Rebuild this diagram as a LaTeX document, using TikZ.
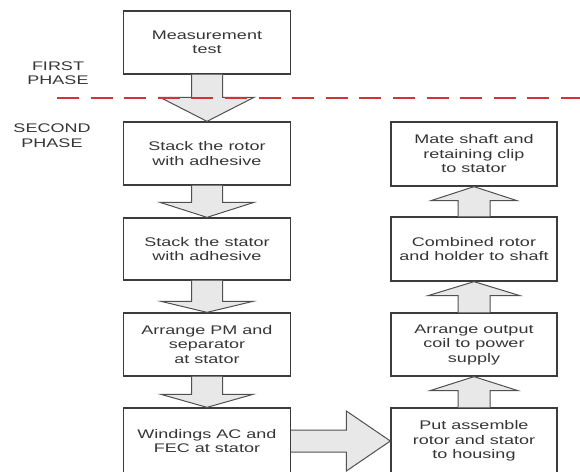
\documentclass[tikz,border=0pt]{standalone}
\usepackage{fontspec}
\setmainfont{Liberation Sans}[FakeStretch=1.44]
\usetikzlibrary{calc}
\definecolor{txt}{HTML}{363636}
\definecolor{bord}{HTML}{3C3C3C}
\definecolor{arrfill}{HTML}{E8E8E8}
\definecolor{dashred}{HTML}{D03434}
\tikzset{
  box/.style={draw=bord, line width=1.3pt, fill=white, minimum width=167pt,
    minimum height=63pt, align=center, text=txt, inner sep=0pt,
    font=\fontsize{12.5}{14.5}\selectfont},
  blk/.style={draw=bord!90, line width=1pt, fill=arrfill, line join=miter},
  phase/.style={text=txt, align=center, inner sep=0pt,
    font=\fontsize{12.5}{14.5}\selectfont},
  divider/.style={draw=dashred, line width=1.6pt, dash pattern=on 22pt off 11.6pt}
}
\newcommand\blkdown[4]{%
  \draw[blk] ($(#1.south)+(-15.5,0)$) -- ($(#2.north)+(-15.5,-#3)$)
    -- ($(#2.north)+(-#4,-#3)$) -- (#2.north) -- ($(#2.north)+(#4,-#3)$)
    -- ($(#2.north)+(15.5,-#3)$) -- ($(#1.south)+(15.5,0)$);}
\newcommand\blkup[4]{%
  \draw[blk] ($(#1.north)+(-16,0)$) -- ($(#2.south)+(-16,#3)$)
    -- ($(#2.south)+(-#4,#3)$) -- (#2.south) -- ($(#2.south)+(#4,#3)$)
    -- ($(#2.south)+(16,#3)$) -- ($(#1.north)+(16,0)$);}
\begin{document}
\begin{tikzpicture}[x=1pt,y=-1pt]
\clip (0,0) rectangle (580,471);
\fill[white] (0,0) rectangle (580,471);
% left column
\node[box] (m)  at (207,42.5) {Measurement\\test};
\node[box] (s1) at (207,153.5) {Stack the rotor\\with adhesive};
\node[box, minimum height=62pt] (s2) at (207,249) {Stack the stator\\with adhesive};
\node[box] (s3) at (207,344.5) {Arrange PM and\\separator\\at stator};
\node[box, minimum height=66pt] (s4) at (207,441) {Windings AC and\\FEC at stator};
% right column
\node[box, minimum width=166pt, minimum height=64pt] (r1) at (474,154) {Mate shaft and\\retaining clip\\to stator};
\node[box, minimum width=166pt, minimum height=64pt] (r2) at (474,249) {Combined rotor\\and holder to shaft};
\node[box, minimum width=166pt] (r3) at (474,344.5) {Arrange output\\coil to power\\supply};
\node[box, minimum width=166pt, minimum height=66pt] (r4) at (474,441) {Put assemble\\rotor and stator\\to housing};
% phase labels
\node[phase] (p1) at (58,73) {FIRST\\PHASE};
\node[phase] (p2) at (52,135.5) {SECOND\\PHASE};
% block arrows
\blkdown{m}{s1}{24}{47}
\blkdown{s1}{s2}{15}{47}
\blkdown{s2}{s3}{11}{46}
\blkdown{s3}{s4}{13}{46}
\blkup{r4}{r3}{14}{44}
\blkup{r3}{r2}{14}{46}
\blkup{r2}{r1}{14}{43}
\draw[blk] ($(s4.east)+(0,-11)$) -- ($(r4.west)+(-44,-11)$) -- ($(r4.west)+(-44,-30)$)
  -- (r4.west) -- ($(r4.west)+(-44,30)$) -- ($(r4.west)+(-44,11)$) -- ($(s4.east)+(0,11)$);
% phase divider
\coordinate (dl) at (57,98);
\coordinate (dr) at (580,98);
\draw[divider] (dl) -- (dr);
\end{tikzpicture}
\end{document}
